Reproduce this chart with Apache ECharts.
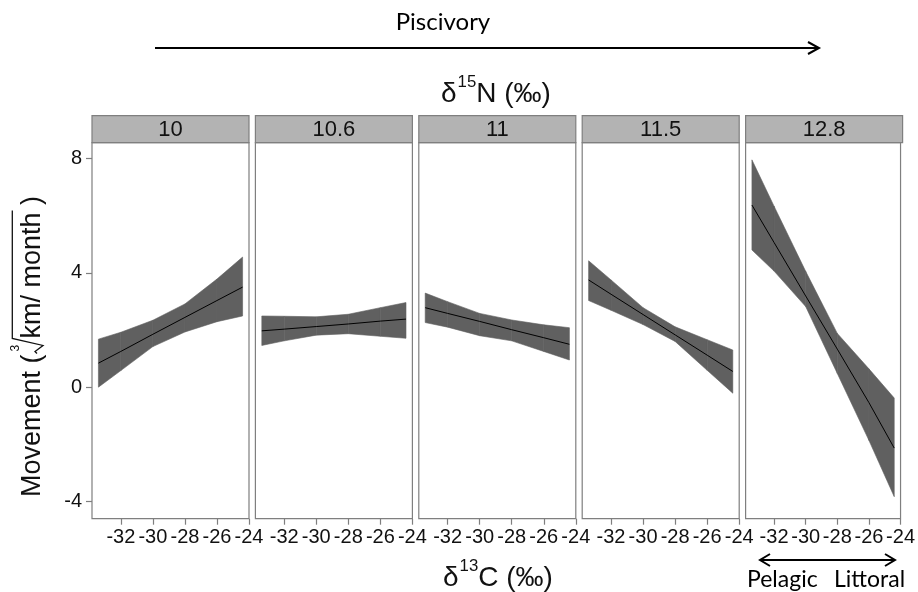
<!DOCTYPE html>
<html>
<head>
<meta charset="utf-8">
<script src="https://cdn.jsdelivr.net/npm/echarts@6/dist/echarts.min.js"></script>
<style>html,body{margin:0;background:#fff}#c{width:918px;height:592px}</style>
</head>
<body>
<div id="c"></div>
<script>
// facets (δ15N levels) and the shared δ13C grid the fits are read on
var facets = ["10", "10.6", "11", "11.5", "12.8"];
var xGrid = [-33.4, -32, -30, -28, -26, -24.4];
var xTicks = [-32, -30, -28, -26, -24];
var yTicks = [8, 4, 0, -4];

// fitted line, lower and upper band per facet
var fit10 = [0.84, 1.25, 1.85, 2.44, 3.03, 3.50];
var lo10 = [0.00, 0.58, 1.42, 1.93, 2.29, 2.49];
var up10 = [1.68, 1.92, 2.34, 2.91, 3.78, 4.55];

var fit106 = [1.97, 2.03, 2.12, 2.21, 2.31, 2.38];
var lo106 = [1.46, 1.62, 1.82, 1.87, 1.78, 1.71];
var up106 = [2.49, 2.48, 2.46, 2.55, 2.78, 2.96];

var fit11 = [2.78, 2.58, 2.30, 2.01, 1.73, 1.50];
var lo11 = [2.26, 2.10, 1.80, 1.62, 1.25, 0.95];
var up11 = [3.29, 2.99, 2.58, 2.35, 2.18, 2.08];

var fit115 = [3.75, 3.25, 2.54, 1.83, 1.12, 0.55];
var lo115 = [3.03, 2.69, 2.19, 1.60, 0.59, -0.21];
var up115 = [4.42, 3.75, 2.78, 2.11, 1.66, 1.30];

var fit128 = [6.37, 5.06, 3.19, 1.33, -0.54, -2.13];
var lo128 = [4.80, 4.06, 2.82, 0.48, -1.86, -3.83];
var up128 = [7.95, 6.33, 4.05, 1.88, 0.64, -0.38];

var fits = [fit10, fit106, fit11, fit115, fit128];
var lows = [lo10, lo106, lo11, lo115, lo128];
var ups = [up10, up106, up11, up115, up128];

// layout / style
var PANEL_LEFT = 92, PANEL_STEP = 163.4, PANEL_W = 157;
var PANEL_TOP = 142.7, PANEL_H = 376;
var STRIP_TOP = 115.7, STRIP_H = 27;
var X_MIN = -33.8, X_MAX = -24, Y_MIN = -4.6, Y_MAX = 8.55;
var BORDER = "#7f7f7f", BAND = "#606060", TEXT = "#111";
var FONT = "'Liberation Sans', Arial, sans-serif";
var FONT2 = "Lato, 'Open Sans', sans-serif";

var ctx = document.createElement("canvas").getContext("2d");
function tw(s, size, fam) { ctx.font = size + "px " + fam; return ctx.measureText(s).width; }

// band drawn as quads between consecutive grid points
function bandRender(lo, up) {
  return function (params, api) {
    var i = params.dataIndex;
    if (i >= xGrid.length - 1) return null;
    var pts = [
      api.coord([xGrid[i], lo[i]]), api.coord([xGrid[i + 1], lo[i + 1]]),
      api.coord([xGrid[i + 1], up[i + 1]]), api.coord([xGrid[i], up[i]])
    ];
    return { type: "polygon", shape: { points: pts },
      style: { fill: BAND, stroke: BAND, lineWidth: 0.6 } };
  };
}

var grids = [], xAxes = [], yAxes = [], series = [], graphics = [];
facets.forEach(function (f, i) {
  var left = PANEL_LEFT + i * PANEL_STEP;
  grids.push({ left: left, top: PANEL_TOP, width: PANEL_W, height: PANEL_H, show: true,
    borderColor: BORDER, borderWidth: 1.2, backgroundColor: "#fff" });
  xAxes.push({ gridIndex: i, type: "value", min: X_MIN, max: X_MAX,
    axisLine: { show: false, onZero: false }, splitLine: { show: false },
    axisTick: { show: true, length: 6, lineStyle: { color: BORDER, width: 1.2 }, customValues: xTicks },
    axisLabel: { customValues: xTicks, color: TEXT, fontSize: 20, fontFamily: FONT, margin: 9,
      showMinLabel: true, showMaxLabel: true } });
  yAxes.push({ gridIndex: i, type: "value", min: Y_MIN, max: Y_MAX,
    axisLine: { show: false, onZero: false }, splitLine: { show: false },
    axisTick: { show: i === 0, length: 6, lineStyle: { color: BORDER, width: 1.2 }, customValues: yTicks },
    axisLabel: { show: i === 0, customValues: yTicks, color: TEXT, fontSize: 20, fontFamily: FONT, margin: 10 } });
  series.push({ type: "custom", xAxisIndex: i, yAxisIndex: i, silent: true,
    renderItem: bandRender(lows[i], ups[i]), encode: { x: 0, y: [1, 2] },
    data: xGrid.map(function (x, k) { return [x, lows[i][k], ups[i][k]]; }) });
  series.push({ type: "line", xAxisIndex: i, yAxisIndex: i, silent: true, showSymbol: false,
    lineStyle: { color: "#000", width: 1 },
    data: xGrid.map(function (x, k) { return [x, fits[i][k]]; }) });
  // facet strip
  graphics.push({ type: "rect", shape: { x: left, y: STRIP_TOP, width: PANEL_W, height: STRIP_H },
    style: { fill: "#b3b3b3", stroke: BORDER, lineWidth: 1.2 } });
  graphics.push({ type: "text", x: left + PANEL_W / 2, y: STRIP_TOP + STRIP_H / 2 + 1,
    style: { text: f, fontSize: 22, fontFamily: FONT, fill: TEXT, align: "center", verticalAlign: "middle" } });
});

// Piscivory arrow
graphics.push({ type: "text", x: 443, y: 22, style: { text: "Piscivory", fontSize: 24, fontFamily: FONT2,
  fill: "#000", align: "center", verticalAlign: "middle" } });
graphics.push({ type: "line", shape: { x1: 155, y1: 48, x2: 818, y2: 48 }, style: { stroke: "#000", lineWidth: 2 } });
graphics.push({ type: "polyline", shape: { points: [[808, 42], [819, 48], [808, 54]] }, style: { stroke: "#000", lineWidth: 2, fill: null } });

// δ-titles with superscripts
function deltaTitle(left, cy, sup, rest, size) {
  var w1 = tw("δ", size, FONT), w2 = tw(sup, size * 0.6, FONT);
  graphics.push({ type: "text", x: left, y: cy, style: { text: "δ", fontSize: size, fontFamily: FONT, fill: TEXT, verticalAlign: "middle" } });
  graphics.push({ type: "text", x: left + w1 + 1, y: cy - size * 0.42, style: { text: sup, fontSize: size * 0.6, fontFamily: FONT, fill: TEXT, verticalAlign: "middle" } });
  graphics.push({ type: "text", x: left + w1 + w2 + 1, y: cy, style: { text: rest, fontSize: size, fontFamily: FONT, fill: TEXT, verticalAlign: "middle" } });
}
deltaTitle(441, 94, "15", "N (‰)", 28);
deltaTitle(443, 578, "13", "C (‰)", 28);

// Pelagic <-> Littoral
graphics.push({ type: "line", shape: { x1: 761, y1: 560, x2: 894, y2: 560 }, style: { stroke: "#000", lineWidth: 2 } });
graphics.push({ type: "polyline", shape: { points: [[770, 554], [760, 560], [770, 566]] }, style: { stroke: "#000", lineWidth: 2, fill: null } });
graphics.push({ type: "polyline", shape: { points: [[885, 554], [895, 560], [885, 566]] }, style: { stroke: "#000", lineWidth: 2, fill: null } });
graphics.push({ type: "text", x: 747, y: 580, style: { text: "Pelagic", fontSize: 23, fontFamily: FONT2, fill: "#000", verticalAlign: "middle" } });
graphics.push({ type: "text", x: 834, y: 580, style: { text: "Littoral", fontSize: 23, fontFamily: FONT2, fill: "#000", verticalAlign: "middle" } });

// y-axis title: Movement (cube root km / month), read bottom to top
(function () {
  var size = 27, cx = 33, y0 = 497;
  var t1 = "Movement (", t2 = "km/ month", t3 = " )";
  var w1 = tw(t1, size, FONT), w2 = tw(t2, size, FONT);
  var rot = Math.PI / 2;
  graphics.push({ type: "text", x: cx, y: y0, rotation: rot, style: { text: t1, fontSize: size, fontFamily: FONT, fill: TEXT, verticalAlign: "middle" } });
  var rs = y0 - w1;            // radical start
  var ks = rs - 16;            // radicand start
  graphics.push({ type: "polyline", shape: { points: [[37, rs - 1], [35, rs - 3], [43, rs - 9], [12.3, ks], [12.3, ks - w2 - 2]] },
    style: { stroke: TEXT, lineWidth: 1.3, fill: null } });
  graphics.push({ type: "text", x: 16, y: rs - 3, rotation: rot, style: { text: "3", fontSize: 12, fontFamily: FONT, fill: TEXT, verticalAlign: "middle" } });
  graphics.push({ type: "text", x: cx, y: ks, rotation: rot, style: { text: t2, fontSize: size, fontFamily: FONT, fill: TEXT, verticalAlign: "middle" } });
  graphics.push({ type: "text", x: cx, y: ks - w2, rotation: rot, style: { text: t3, fontSize: size, fontFamily: FONT, fill: TEXT, verticalAlign: "middle" } });
})();

var chart = echarts.init(document.getElementById("c"), null, { renderer: "canvas" });
chart.setOption({
  animation: false,
  backgroundColor: "#fff",
  grid: grids, xAxis: xAxes, yAxis: yAxes, series: series,
  graphic: graphics
});
</script>
</body>
</html>
